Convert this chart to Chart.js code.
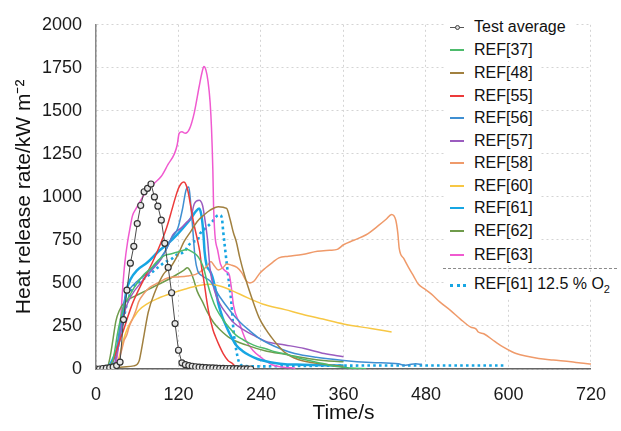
<!DOCTYPE html>
<html>
<head>
<meta charset="utf-8">
<script src="https://cdn.jsdelivr.net/npm/chart.js@4.4.1/dist/chart.umd.min.js"></script>
<style>
  html, body { margin: 0; padding: 0; background: #fff; }
  #wrap { position: relative; width: 621px; height: 431px; }
  canvas { display: block; }
  .lg { position: absolute; left: 0; top: 0; width: 621px; height: 431px; pointer-events: none;
        font-family: "Liberation Sans", Arial, sans-serif; font-size: 16px; color: #111; }
  .row { position: absolute; left: 444px; height: 22px; display: flex; align-items: center; background: #fff; padding-right: 8px; white-space: nowrap; }
  .sym { position: relative; width: 14px; height: 0; margin: 0 10px 0 6px; }
  .sep { position: absolute; left: 443px; width: 174px; top: 268px; border-top: 1px dashed #8a8a8a; }
</style>
</head>
<body>
<div id="wrap">
  <canvas id="c" width="621" height="431"></canvas>
  <div class="lg" id="legend"></div>
</div>
<script>
"use strict";

// --- Veri --------------------------------------------------------------------

const X_TICKS = [0, 120, 240, 360, 480, 600, 720];
const Y_TICKS = [0, 250, 500, 750, 1000, 1250, 1500, 1750, 2000];

// Test average: olcum noktalari 5 s aralikla
const avgTime = [0, 5, 10, 15, 20, 25, 30, 35, 40, 45, 50, 55, 60, 65, 70, 75, 80, 85, 90, 95,
  100, 105, 110, 115, 120, 125, 130, 135, 140, 145, 150, 155, 160, 165, 170, 175, 180, 185,
  190, 195, 200, 205, 210, 215, 220, 225];
const avgHrr = [0, 0, 3, 5, 8, 12, 20, 40, 287, 458, 615, 713, 845, 950, 1030, 1050, 1075, 1000,
  946, 865, 730, 590, 443, 264, 109, 36, 25, 20, 16, 13, 11, 9, 8, 7, 6, 5, 4, 4,
  3, 3, 2, 2, 1, 1, 1, 0];

// [zaman s, HRR kW/m2]
const ref37 = [[0,0],[10,2],[18,8],[23,30],[27,100],[31,200],[35,280],[40,360],[48,420],[55,470],
  [62,510],[70,550],[81,590],[90,630],[100,660],[110,670],[119,680],[127,690],[133,695],[140,680],
  [147,660],[152,630],[157,580],[162,500],[168,420],[175,350],[185,285],[195,235],[204,195],
  [214,170],[223,150],[235,130],[247,118],[260,100],[275,88],[300,58],[330,32],[350,14],
  [370,6],[393,2]];

const ref48 = [[0,3],[20,8],[40,12],[55,18],[60,28],[63,50],[66,110],[70,200],[76,330],[86,450],
  [98,550],[110,600],[120,670],[128,740],[138,800],[147,856],[157,895],[166,923],[178,943],
  [190,933],[195,870],[200,790],[204,741],[209,650],[216,545],[226,420],[237,300],[247,230],
  [255,185],[262,150],[275,95],[294,55],[318,35],[340,24],[360,14]];

const ref55 = [[0,0],[15,3],[20,15],[25,50],[30,110],[35,170],[40,225],[46,300],[53,380],[62,460],
  [72,540],[81,610],[91,700],[100,790],[105,850],[110,920],[115,990],[120,1050],[124,1078],
  [128,1086],[131,1070],[134,1030],[138,940],[142,850],[147,760],[151,680],[154,580],[157,511],
  [161,400],[164,330],[170,230],[174,186],[180,130],[185,90],[192,50],[199,30],[204,10],[210,3]];

const ref56 = [[0,0],[15,3],[22,20],[28,80],[33,200],[38,330],[43,420],[50,470],[60,510],[72,550],
  [85,600],[100,680],[110,760],[119,818],[126,933],[131,1040],[135,1057],[138,950],[141,800],
  [144,650],[148,570],[155,540],[166,511],[180,420],[195,339],[210,270],[223,224],[237,180],
  [251,148],[270,115],[289,90],[320,68],[360,50],[400,38],[440,30],[448,22],[455,25],[465,30],
  [474,27]];

const ref57 = [[0,0],[20,5],[27,30],[32,120],[37,240],[43,350],[52,430],[65,500],[80,570],[95,640],
  [105,720],[112,780],[124,820],[131,850],[138,880],[143,960],[150,980],[155,950],[158,880],
  [162,760],[166,580],[172,460],[180,380],[190,320],[200,270],[216,224],[232,190],[247,160],
  [275,140],[303,119],[332,90],[360,71]];

const ref58 = [[0,0],[25,2],[30,15],[34,60],[38,120],[41,167],[45,200],[48,243],[53,290],[58,340],
  [62,390],[70,440],[77,470],[90,500],[105,530],[120,535],[133,540],[145,550],[155,575],
  [162,600],[167,625],[172,600],[178,575],[185,590],[190,610],[196,605],[205,590],[212,560],
  [218,515],[224,500],[230,511],[238,555],[247,588],[257,620],[266,646],[280,655],[300,665],
  [322,684],[340,690],[351,695],[360,722],[375,748],[393,780],[412,837],[422,870],[430,898],
  [436,866],[439,790],[441,703],[448,640],[455,588],[462,540],[469,492],[478,465],[488,435],
  [500,390],[516,339],[530,290],[545,243],[553,232],[556,215],[564,205],[580,160],[592,128],
  [605,100],[611,90],[625,75],[644,61],[665,52],[691,42],[705,35],[720,29]];

const ref60 = [[0,0],[25,3],[30,20],[35,90],[40,170],[45,230],[50,270],[55,300],[62,340],[75,380],
  [90,410],[110,440],[130,465],[150,485],[166,492],[180,482],[195,460],[220,415],[242,378],
  [275,345],[300,318],[330,290],[360,262],[400,235],[430,215]];

const ref61 = [[0,0],[10,4],[20,25],[27,80],[32,130],[36,220],[40,330],[44,450],[50,520],[60,575],
  [75,620],[90,680],[105,730],[119,785],[130,835],[138,875],[145,915],[150,933],[153,900],
  [156,800],[158,680],[161,600],[165,575],[169,540],[174,460],[178,380],[184,300],[190,243],
  [197,185],[204,138],[213,105],[223,80],[235,58],[247,45],[260,35],[275,28],[300,25],
  [330,22],[360,20]];

const ref62 = [[0,0],[12,3],[17,15],[21,80],[25,180],[29,280],[34,340],[40,380],[50,410],[60,430],
  [75,460],[90,490],[105,520],[120,555],[128,575],[133,588],[137,570],[142,520],[147,454],
  [155,390],[162,330],[171,270],[180,230],[195,180],[218,140],[247,105],[275,85],[313,58],
  [335,48],[360,42]];

const ref63 = [[0,0],[20,2],[27,12],[30,50],[33,150],[36,300],[39,480],[42,620],[46,740],[50,830],
  [53,890],[58,930],[65,980],[75,1040],[85,1080],[95,1120],[105,1190],[114,1250],[118,1300],
  [121,1370],[125,1378],[130,1370],[136,1395],[143,1490],[150,1640],[154,1720],[157,1757],
  [160,1735],[163,1670],[166,1550],[168,1400],[170,1150],[171,950],[173,780],[177,690],
  [181,610],[188,570],[194,545],[197,470],[200,370],[209,263],[218,167],[228,109],[242,61],
  [256,25],[270,12],[290,5]];

const ref61lowO2 = [[0,0],[15,5],[22,20],[27,60],[31,120],[35,190],[40,290],[45,380],[50,440],
  [55,480],[65,510],[75,540],[90,590],[100,620],[110,640],[120,670],[128,680],[135,720],
  [140,740],[147,745],[152,790],[160,820],[169,855],[176,890],[180,895],[183,880],[185,800],
  [188,690],[192,550],[197,380],[200,225],[204,110],[208,40],[213,20],[233,15],[300,18],
  [400,20],[500,20],[597,20]];

// --- Seriler -----------------------------------------------------------------

const SERIES = [
  { label: "REF[37]", data: ref37, color: "#4dbb6c", width: 1.5 },
  { label: "REF[48]", data: ref48, color: "#a1803f", width: 1.5 },
  { label: "REF[55]", data: ref55, color: "#ec3a3a", width: 1.5 },
  { label: "REF[56]", data: ref56, color: "#3f8fd2", width: 1.5 },
  { label: "REF[57]", data: ref57, color: "#9b5cbf", width: 1.5 },
  { label: "REF[58]", data: ref58, color: "#ef9a6a", width: 1.5 },
  { label: "REF[60]", data: ref60, color: "#f7c744", width: 1.5 },
  { label: "REF[61]", data: ref61, color: "#17a6e3", width: 2.5 },
  { label: "REF[62]", data: ref62, color: "#6f9b4b", width: 1.5 },
  { label: "REF[63]", data: ref63, color: "#f05ad0", width: 1.5 },
];

const toXY = (pairs) => pairs.map(([x, y]) => ({ x, y }));

const datasets = [
  {
    label: "Test average",
    data: avgTime.map((t, i) => ({ x: t, y: avgHrr[i] })),
    borderColor: "#4a4a4a", borderWidth: 1,
    pointRadius: 3, pointBorderWidth: 1.2,
    pointBackgroundColor: "#e8e8e8", pointBorderColor: "#333",
    tension: 0,
  },
  ...SERIES.map((s) => ({
    label: s.label, data: toXY(s.data),
    borderColor: s.color, borderWidth: s.width,
    pointRadius: 0, cubicInterpolationMode: "monotone",
  })),
  {
    label: "REF[61] 12.5 % O2", data: toXY(ref61lowO2),
    borderColor: "#17a6e3", borderWidth: 2.6, borderDash: [2.6, 3.2],
    pointRadius: 0, cubicInterpolationMode: "monotone",
  },
];

// --- Grafik ------------------------------------------------------------------

const FONT = "'Liberation Sans', Arial, sans-serif";

new Chart(document.getElementById("c"), {
  type: "line",
  data: { datasets },
  options: {
    responsive: false, animation: false,
    layout: { padding: { top: 21, right: 18, left: 0, bottom: 0 } },
    plugins: { legend: { display: false }, tooltip: { enabled: false } },
    scales: {
      x: {
        type: "linear", min: 0, max: 720,
        afterBuildTicks: (ax) => { ax.ticks = X_TICKS.map((v) => ({ value: v })); },
        afterFit: (ax) => { ax.height = 62; },
        ticks: { padding: 15, color: "#1a1a1a", font: { family: FONT, size: 18 },
          callback: (v) => String(v) },
        grid: { color: "#d4d4d4", drawTicks: false },
        border: { color: "#666", width: 1.5, dash: [2, 3] },
        title: { display: true, text: "Time/s", color: "#111",
          font: { family: FONT, size: 21 }, padding: { top: 0, bottom: 5 } },
      },
      y: {
        min: 0, max: 2000,
        afterBuildTicks: (ax) => { ax.ticks = Y_TICKS.map((v) => ({ value: v })); },
        afterFit: (ax) => { ax.width = 96; },
        ticks: { padding: 14, color: "#1a1a1a", font: { family: FONT, size: 18 },
          callback: (v) => String(v) },
        grid: { color: "#d4d4d4", drawTicks: false },
        border: { color: "#888", width: 1.5, dash: [2, 3] },
        title: { display: true, text: "Heat release rate/kW m\u207B\u00B2", color: "#111",
          font: { family: FONT, size: 21 }, padding: { top: 12, bottom: 0 } },
      },
    },
  },
});

// --- Lejant ------------------------------------------------------------------

const legend = document.getElementById("legend");
const ROW_Y = [27, 50, 73, 96, 118, 141, 163, 186, 208, 231, 255];

function addRow(top, symHtml, text) {
  const row = document.createElement("div");
  row.className = "row";
  row.style.top = `${top - 11}px`;
  row.innerHTML = `<span class="sym">${symHtml}</span><span>${text}</span>`;
  legend.appendChild(row);
  return row;
}

addRow(ROW_Y[0],
  `<span style="position:absolute;left:0;top:-0.5px;width:14px;border-top:1px solid #555"></span>` +
  `<span style="position:absolute;left:4.5px;top:-2.5px;width:3px;height:3px;border:1px solid #444;border-radius:50%;background:#ddd"></span>`,
  "Test average");

SERIES.forEach((s, i) => {
  addRow(ROW_Y[i + 1],
    `<span style="position:absolute;left:0;top:-1px;width:14px;border-top:2px solid ${s.color}"></span>`,
    s.label);
});

const sep = document.createElement("div");
sep.className = "sep";
legend.appendChild(sep);

const last = addRow(285,
  `<span style="position:absolute;left:0;top:-1.5px;width:16px;border-top:3px dotted #17a6e3"></span>`,
  "REF[61] 12.5 % O<sub style=\"font-size:11px;vertical-align:-4px\">2</sub>");
last.style.height = "26px";
last.style.top = "272px";
</script>
</body>
</html>
